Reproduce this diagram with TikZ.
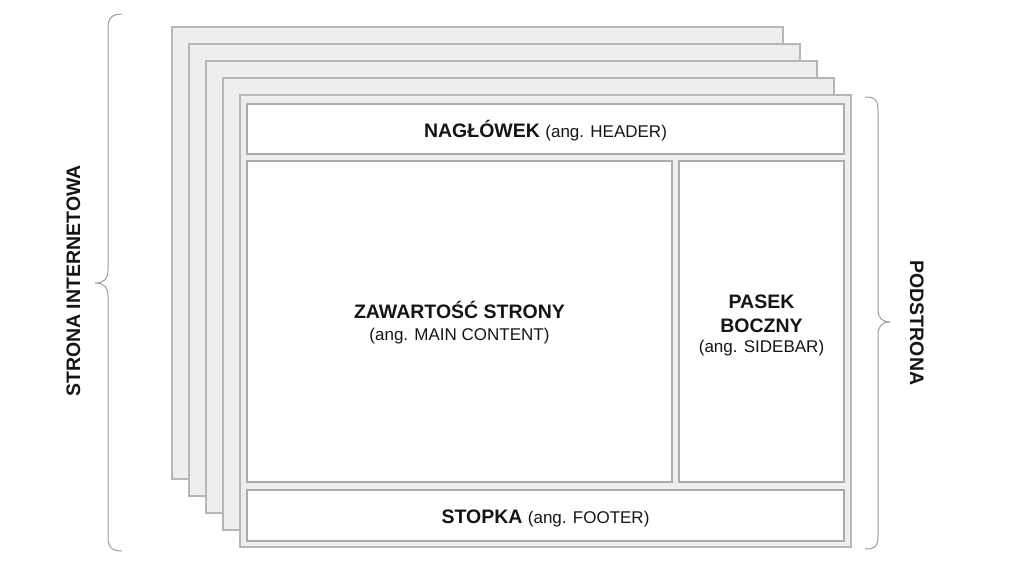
\documentclass[tikz,border=0pt]{standalone}
\usepackage{fontspec}
\setmainfont{Liberation Sans}
\definecolor{sheetfill}{HTML}{EEEEEE}
\definecolor{sheetline}{HTML}{B6B6B6}
\definecolor{boxline}{HTML}{ABABAB}
\definecolor{braceline}{HTML}{9C9C9C}
\definecolor{txt}{HTML}{151515}
\tikzset{
  sheet/.style={draw=sheetline, fill=sheetfill, line width=1.3pt, rectangle, anchor=north west,
    minimum width=611pt, minimum height=452pt, inner sep=0pt, outer sep=0pt},
  region/.style={draw=boxline, fill=white, line width=1.2pt, rectangle, anchor=north west,
    inner sep=0pt, outer sep=0pt},
  brace/.style={draw=braceline, line width=1pt},
  bold/.style={font=\fontsize{19.5}{23}\selectfont\bfseries, text=txt, inner sep=0pt, anchor=base},
  reg/.style={font=\fontsize{17}{20}\selectfont, text=txt, inner sep=0pt, anchor=base},
}
\begin{document}
\begin{tikzpicture}[x=1pt,y=-1pt]
\useasboundingbox (0,0) rectangle (1024,576);
% stacked sheets
\node[sheet] (s1) at (172,27) {};
\node[sheet] (s2) at (189,44) {};
\node[sheet] (s3) at (206,61) {};
\node[sheet] (s4) at (223,78) {};
\node[sheet] (s5) at (240,95) {};
% regions on front sheet
\node[region, minimum width=597pt, minimum height=50pt] (header) at (247,104) {};
\node[region, minimum width=425pt, minimum height=321pt] (main) at (247,161) {};
\node[region, minimum width=165pt, minimum height=321pt] (side) at (679,161) {};
\node[region, minimum width=597pt, minimum height=51pt] (footer) at (247,490) {};
% texts
\node[bold] (headertxt) at (545.5,137) {NAGŁÓWEK \fontsize{17}{20}\selectfont\mdseries (ang. HEADER)};
\node[bold] (maintxt) at (459.5,318) {ZAWARTOŚĆ STRONY};
\node[reg] (mainsub) at (459.5,340) {(ang. MAIN CONTENT)};
\node[bold] (sidetxt1) at (761.5,308) {PASEK};
\node[bold] (sidetxt2) at (761.5,332) {BOCZNY};
\node[reg] (sidesub) at (761.5,352) {(ang. SIDEBAR)};
\node[bold] (footertxt) at (545.5,523.5) {STOPKA \fontsize{17}{20}\selectfont\mdseries (ang. FOOTER)};
% side labels
\node[bold, rotate=90] (strona) at (80,281) {STRONA INTERNETOWA};
\node[bold, rotate=-90] (podstrona) at (910,323) {PODSTRONA};
% braces
\draw[brace] (122,14) .. controls (112,14) and (108,18) .. (108,28) -- (108,270)
  .. controls (108,279) and (104,283) .. (95,283)
  .. controls (104,283) and (108,287) .. (108,296) -- (108,537)
  .. controls (108,547) and (112,551) .. (122,551);
\draw[brace] (865,97) .. controls (875,97) and (878,100) .. (878,110) -- (878,309)
  .. controls (878,318) and (882,322) .. (890,322)
  .. controls (882,322) and (878,326) .. (878,335) -- (878,536)
  .. controls (878,546) and (875,549) .. (865,549);
\end{tikzpicture}
\end{document}
